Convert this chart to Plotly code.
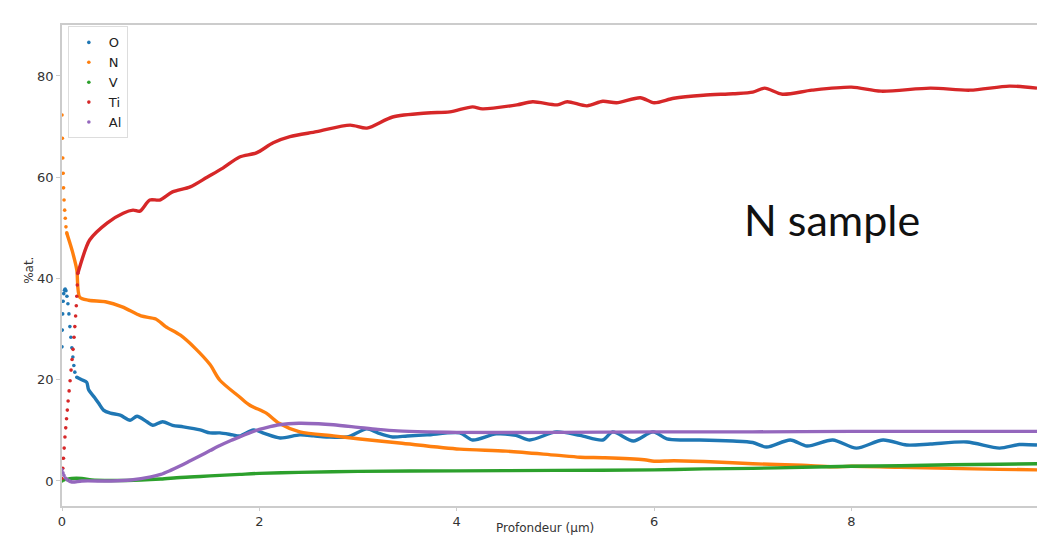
import plotly.graph_objects as go

# GDOES-style depth profile, composition in at.% versus depth (µm)
COLORS = {"O": "#1f77b4", "N": "#ff7f0e", "V": "#2ca02c", "Ti": "#d62728", "Al": "#9467bd"}

# --- first, sparsely sampled points near the surface (drawn as dots) ---
o_head_depth = [0.0, 0.003, 0.007, 0.012, 0.018, 0.025, 0.032, 0.04, 0.05, 0.06, 0.07, 0.08, 0.09, 0.10, 0.11, 0.12, 0.13, 0.15]
o_head_pct = [26.5, 29.8, 33.0, 35.5, 37.0, 37.7, 37.9, 37.6, 36.5, 35.0, 33.0, 30.5, 28.4, 26.3, 24.5, 22.8, 21.5, 20.5]

n_head_depth = [0.0, 0.004, 0.008, 0.012, 0.016, 0.021, 0.027, 0.033, 0.040, 0.048]
n_head_pct = [72.3, 67.7, 63.8, 60.8, 57.9, 55.5, 53.5, 51.9, 50.2, 49.0]

v_head_depth = [0.0, 0.02, 0.05]
v_head_pct = [0.0, 0.2, 0.3]

ti_head_depth = [0.0, 0.008, 0.015, 0.022, 0.030, 0.038, 0.046, 0.054, 0.062, 0.072, 0.082,
                 0.092, 0.102, 0.112, 0.122, 0.130, 0.138, 0.145, 0.150, 0.155, 0.160]
ti_head_pct = [0.5, 2.5, 4.5, 6.5, 8.7, 10.5, 12.3, 14.0, 15.8, 17.8, 19.8,
               21.9, 24.0, 26.0, 28.4, 30.5, 32.6, 34.6, 36.5, 38.7, 41.0]

al_head_depth = [0.0, 0.01, 0.02, 0.035, 0.05]
al_head_pct = [2.2, 1.6, 1.1, 0.6, 0.3]

# --- bulk of the profile (dense sampling, drawn as continuous traces) ---
o_depth = [0.15, 0.2, 0.25, 0.27, 0.33, 0.37, 0.42, 0.49, 0.59, 0.69, 0.76, 0.86, 0.92, 1.02, 1.12,
           1.23, 1.4, 1.5, 1.6, 1.73, 1.8, 1.94, 2.05, 2.21, 2.41, 2.55, 2.68, 2.89, 3.09, 3.2, 3.35,
           3.5, 3.7, 4.03, 4.16, 4.4, 4.6, 4.74, 5.01, 5.25, 5.48, 5.58, 5.79, 5.99, 6.13, 6.3,
           6.46, 6.8, 7.0, 7.14, 7.38, 7.55, 7.81, 8.05, 8.32, 8.56, 8.8, 9.17, 9.5, 9.7, 9.88]
o_pct = [20.5, 20.0, 19.5, 18.0, 16.5, 15.4, 14.0, 13.4, 13.0, 12.0, 12.8, 11.7, 11.0, 11.7, 11.0,
         10.7, 10.1, 9.5, 9.5, 9.1, 8.9, 10.1, 9.4, 8.5, 9.1, 8.9, 8.7, 8.7, 10.3, 9.5, 8.7,
         8.9, 9.1, 9.5, 8.1, 9.3, 9.0, 8.1, 9.7, 9.0, 8.1, 9.7, 7.9, 9.7, 8.3, 8.1,
         8.1, 7.9, 7.6, 6.7, 8.1, 6.9, 8.1, 6.5, 8.1, 7.1, 7.3, 7.7, 6.5, 7.2, 7.1]

n_depth = [0.048, 0.08, 0.11, 0.15, 0.18, 0.27, 0.44, 0.61, 0.8, 0.95, 1.05, 1.2, 1.35, 1.5, 1.6,
           1.8, 1.9, 2.07, 2.2, 2.41, 2.75, 3.02, 3.42, 4.03, 4.5, 5.0, 5.25, 5.5, 5.9, 6.0, 6.2,
           6.57, 7.0, 7.5, 7.81, 8.0, 8.5, 9.0, 9.5, 9.88]
n_pct = [49.0, 47.0, 45.0, 41.7, 36.3, 35.7, 35.4, 34.4, 32.6, 32.0, 30.5, 28.8, 26.2, 23.0, 19.9,
         16.6, 15.0, 13.4, 11.4, 9.7, 8.9, 8.3, 7.5, 6.3, 5.9, 5.1, 4.7, 4.6, 4.2, 3.9, 4.0,
         3.8, 3.4, 3.1, 2.8, 2.9, 2.7, 2.5, 2.3, 2.2]

v_depth = [0.05, 0.1, 0.2, 0.3, 0.5, 0.8, 1.0, 1.2, 1.4, 1.6, 1.8, 2.0, 2.4, 3.0, 4.0, 5.0, 6.0,
           6.5, 7.0, 7.5, 8.0, 8.5, 9.0, 9.5, 9.88]
v_pct = [0.3, 0.5, 0.5, 0.2, 0.1, 0.2, 0.4, 0.7, 0.9, 1.1, 1.3, 1.5, 1.7, 1.9, 2.0, 2.1, 2.2,
         2.4, 2.5, 2.7, 2.9, 3.0, 3.2, 3.3, 3.4]

ti_depth = [0.16, 0.18, 0.28, 0.46, 0.62, 0.72, 0.79, 0.89, 0.99, 1.12, 1.3, 1.47, 1.63, 1.8,
            1.97, 2.14, 2.31, 2.58, 2.92, 3.09, 3.35, 3.7, 3.93, 4.16, 4.26, 4.61, 4.77, 5.02,
            5.12, 5.32, 5.48, 5.62, 5.86, 6.0, 6.2, 6.5, 6.8, 7.0, 7.12, 7.3, 7.6, 8.0, 8.3,
            8.8, 9.2, 9.6, 9.88]
ti_pct = [41.0, 42.3, 47.6, 51.0, 52.9, 53.5, 53.3, 55.5, 55.5, 57.1, 58.1, 60.0, 61.8, 64.0,
          64.8, 66.8, 68.0, 69.0, 70.3, 69.7, 71.9, 72.7, 72.9, 73.9, 73.5, 74.3, 74.9, 74.3,
          74.9, 74.1, 75.0, 74.7, 75.7, 74.7, 75.6, 76.2, 76.5, 76.8, 77.6, 76.4, 77.2, 77.8, 77.0,
          77.6, 77.2, 78.0, 77.6]

al_depth = [0.05, 0.1, 0.2, 0.5, 0.7, 0.9, 1.0, 1.1, 1.2, 1.3, 1.4, 1.5, 1.6, 1.7, 1.8, 1.9, 2.0,
            2.1, 2.2, 2.4, 2.6, 2.75, 3.0, 3.2, 3.4, 3.7, 4.0, 5.0, 6.0, 7.0, 8.0, 9.0, 9.88]
al_pct = [0.3, -0.2, 0.0, 0.0, 0.2, 0.8, 1.3, 2.1, 3.0, 4.0, 5.0, 6.0, 7.0, 7.9, 8.7, 9.5, 10.2,
          10.7, 11.1, 11.4, 11.3, 11.1, 10.6, 10.2, 9.9, 9.7, 9.6, 9.6, 9.7, 9.7, 9.8, 9.8, 9.8]

# axis ticks
x_ticks = [0, 2, 4, 6, 8]
y_ticks = [0, 20, 40, 60, 80]

series = [
    ("O", o_head_depth, o_head_pct, o_depth, o_pct),
    ("N", n_head_depth, n_head_pct, n_depth, n_pct),
    ("V", v_head_depth, v_head_pct, v_depth, v_pct),
    ("Ti", ti_head_depth, ti_head_pct, ti_depth, ti_pct),
    ("Al", al_head_depth, al_head_pct, al_depth, al_pct),
]

fig = go.Figure()

# continuous bulk traces first, so the sparse surface dots sit on top
for name, hx, hy, bx, by in series:
    fig.add_trace(go.Scatter(
        x=bx, y=by, mode="lines", name=name, showlegend=False,
        line=dict(color=COLORS[name], width=3.4, shape="spline", smoothing=0.8),
        hoverinfo="skip",
    ))
for name, hx, hy, bx, by in series:
    fig.add_trace(go.Scatter(
        x=hx, y=hy, mode="markers", name=name,
        marker=dict(color=COLORS[name], size=3.6),
    ))

fig.add_annotation(
    x=7.8, y=51.6, xref="x", yref="y", text="N sample", showarrow=False,
    font=dict(family="Lato", size=43, color="#111111"),
)

# axis titles placed as annotations for precise positioning
title_font = dict(family="DejaVu Sans", size=12, color="#333333")
fig.add_annotation(
    x=(545 - 62) / 975, y=-0.046, xref="paper", yref="paper", text="Profondeur (µm)",
    showarrow=False, font=title_font, xanchor="center", yanchor="middle",
)
fig.add_annotation(
    x=-0.034, y=(506 - 270) / 481, xref="paper", yref="paper", text="%at.",
    showarrow=False, font=title_font, textangle=-90, xanchor="center", yanchor="middle",
)

axis_font = dict(family="DejaVu Sans", size=13, color="#333333")

fig.update_layout(
    width=1037, height=540,
    margin=dict(l=62, r=0, t=25, b=34),
    paper_bgcolor="white", plot_bgcolor="white",
    font=axis_font,
    legend=dict(
        x=0.006, y=0.997, xanchor="left", yanchor="top",
        bgcolor="white", bordercolor="#dddddd", borderwidth=1,
        font=dict(family="DejaVu Sans", size=13, color="#222222"),
        itemwidth=30, tracegroupgap=0,
    ),
    xaxis=dict(
        range=[0, 9.88], tickvals=x_ticks, ticktext=[str(t) for t in x_ticks],
        showgrid=False, zeroline=False, showline=True, linecolor="#cccccc", linewidth=1.5,
        mirror=True, ticks="outside", ticklen=3, tickcolor="#cccccc",
        tickfont=axis_font,
    ),
    yaxis=dict(
        range=[-4.94, 90.07], tickvals=y_ticks, ticktext=[str(t) for t in y_ticks],
        showgrid=False, zeroline=False, showline=True, linecolor="#cccccc", linewidth=1.5,
        ticks="outside", ticklen=4, tickcolor="#cccccc",
        tickfont=axis_font,
    ),
)

fig.write_html("out.html")
